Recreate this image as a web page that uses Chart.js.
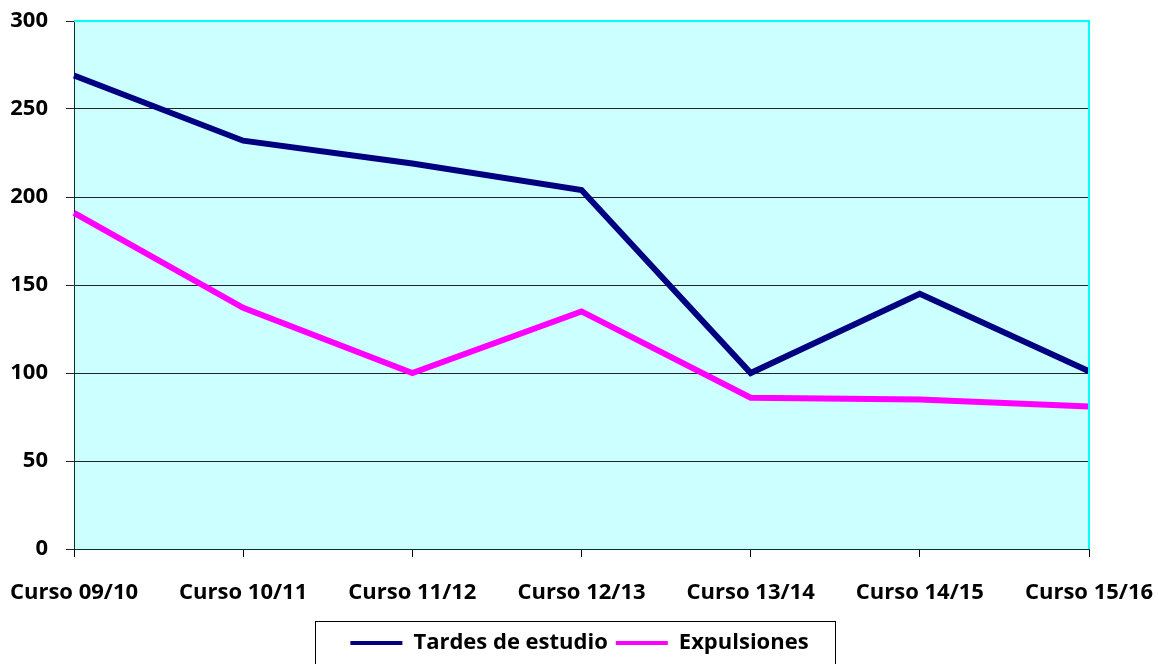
<!DOCTYPE html>
<html>
<head>
<meta charset="utf-8">
<script src="https://cdn.jsdelivr.net/npm/chart.js@4/dist/chart.umd.min.js"></script>
<style>
  html, body { margin: 0; padding: 0; background: #fff; }
  #wrap { width: 1159px; height: 664px; }
</style>
</head>
<body>
<div id="wrap"><canvas id="c" width="1159" height="664"></canvas></div>
<script>
const categories = ['Curso 09/10', 'Curso 10/11', 'Curso 11/12', 'Curso 12/13', 'Curso 13/14', 'Curso 14/15', 'Curso 15/16'];
const tardesDeEstudio = [269, 232, 219, 204, 100, 145, 101];
const expulsiones = [191, 137, 100, 135, 86, 85, 81];
const yTicks = [0, 50, 100, 150, 200, 250, 300];

const FONT = '"Open Sans", Lato, sans-serif';

// Pale cyan plot fill, with cyan frame on the top and right edges
const plotFrame = {
  id: 'plotFrame',
  beforeDraw(chart) {
    const { ctx, chartArea: a } = chart;
    ctx.save();
    ctx.fillStyle = '#CCFFFF';
    ctx.fillRect(a.left, a.top, a.right - a.left, a.bottom - a.top);
    ctx.restore();
  },
  afterDatasetsDraw(chart) {
    const { ctx, chartArea: a } = chart;
    ctx.save();
    ctx.strokeStyle = '#00FFFF';
    ctx.lineWidth = 2;
    ctx.beginPath();
    ctx.moveTo(a.left, a.top);
    ctx.lineTo(a.right, a.top);
    ctx.lineTo(a.right, a.bottom);
    ctx.stroke();
    ctx.restore();
  },
  afterDraw(chart) {
    // Box around the legend entries
    const lg = chart.legend;
    if (!lg || !lg.legendHitBoxes.length) return;
    const boxes = lg.legendHitBoxes;
    const left = Math.min(...boxes.map(b => b.left)) - 35;
    const right = Math.max(...boxes.map(b => b.left + b.width)) + 27;
    const { ctx } = chart;
    ctx.save();
    ctx.strokeStyle = '#000';
    ctx.lineWidth = 1;
    ctx.strokeRect(Math.round(left) + 0.5, 621.5, Math.round(right - left), 60);
    ctx.restore();
  }
};

new Chart(document.getElementById('c'), {
  type: 'line',
  data: {
    labels: categories,
    datasets: [
      {
        label: 'Tardes de estudio',
        data: tardesDeEstudio,
        borderColor: '#000080',
        backgroundColor: '#000080',
        borderWidth: 6,
        pointRadius: 0,
        tension: 0,
        fill: false
      },
      {
        label: 'Expulsiones',
        data: expulsiones,
        borderColor: '#FF00FF',
        backgroundColor: '#FF00FF',
        borderWidth: 6,
        pointRadius: 0,
        tension: 0,
        fill: false
      }
    ]
  },
  options: {
    responsive: false,
    animation: false,
    layout: { padding: { left: 0, top: 21, right: 0, bottom: 0 } },
    plugins: {
      tooltip: { enabled: false },
      legend: {
        display: true,
        position: 'bottom',
        labels: {
          usePointStyle: true,
          pointStyle: 'line',
          pointStyleWidth: 52,
          color: '#000',
          padding: 8,
          font: { family: FONT, size: 22, weight: 'bold' },
          generateLabels(chart) {
            const items = Chart.defaults.plugins.legend.labels.generateLabels(chart);
            items.forEach(it => { it.lineWidth = 4; });
            return items;
          }
        }
      }
    },
    scales: {
      x: {
        type: 'category',
        offset: false,
        afterFit(scale) {
          scale.height = 75;
          scale.paddingLeft = 0;
          scale.paddingRight = 70;
        },
        grid: {
          drawOnChartArea: false,
          drawTicks: true,
          tickLength: 8,
          color: '#000'
        },
        border: { display: true, color: '#003333', width: 1 },
        ticks: {
          color: '#000',
          padding: 23,
          maxRotation: 0,
          autoSkip: false,
          font: { family: FONT, size: 22, weight: 'bold' }
        }
      },
      y: {
        min: 0,
        max: 300,
        afterFit(scale) {
          scale.width = 74;
          scale.paddingTop = 0;
          scale.paddingBottom = 0;
        },
        afterBuildTicks(scale) { scale.ticks = yTicks.map(v => ({ value: v })); },
        grid: {
          drawOnChartArea: true,
          drawTicks: true,
          tickLength: 8,
          color: '#222',
          lineWidth: 1
        },
        border: { display: true, color: '#003333', width: 1 },
        ticks: {
          color: '#000',
          padding: 18,
          font: { family: FONT, size: 22, weight: 'bold' }
        }
      }
    }
  },
  plugins: [plotFrame]
});
</script>
</body>
</html>
